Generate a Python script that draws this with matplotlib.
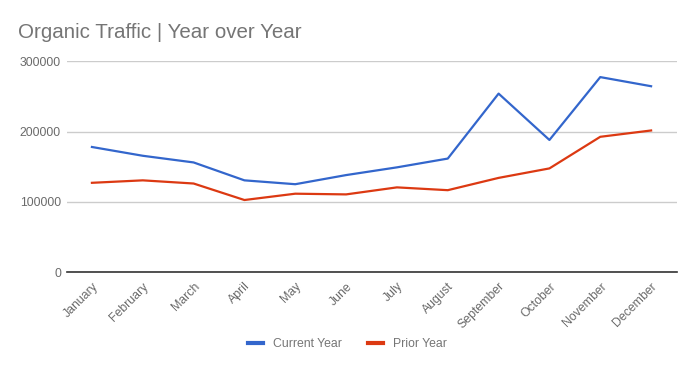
import matplotlib
matplotlib.use('Agg')
import matplotlib.pyplot as plt

# Data
months = ['January', 'February', 'March', 'April', 'May', 'June',
          'July', 'August', 'September', 'October', 'November', 'December']
current_year = [178000, 165500, 156000, 130500, 125000, 138000,
                149000, 161500, 254000, 188000, 277500, 264500]
prior_year = [127000, 130500, 126000, 102500, 111500, 110500,
              120500, 116500, 134000, 147500, 192500, 201500]
y_ticks = [0, 100000, 200000, 300000]

plt.rcParams['font.family'] = ['Liberation Sans', 'DejaVu Sans']

fig = plt.figure(figsize=(6.95, 3.71), dpi=100)
ax = fig.add_axes([0.0957, 0.2668, 0.8777, 0.568])

x = range(len(months))
ax.plot(x, current_year, color='#3366CC', linewidth=1.6, label='Current Year')
ax.plot(x, prior_year, color='#DC3912', linewidth=1.6, label='Prior Year')

ax.set_xlim(-0.5, len(months) - 0.5)
ax.set_ylim(0, 300000)
ax.set_yticks(y_ticks)
ax.set_yticklabels([str(v) for v in y_ticks])
ax.set_xticks(list(x))
ax.set_xticklabels(months, rotation=45, ha='right', rotation_mode='anchor')
ax.tick_params(length=0, labelsize=8.8, labelcolor='#6a6a6a')
ax.tick_params(axis='y', pad=4)
ax.tick_params(axis='x', pad=6)

ax.grid(axis='y', color='#cccccc', linewidth=1)
ax.set_axisbelow(True)
for side in ['top', 'right', 'left']:
    ax.spines[side].set_visible(False)
ax.spines['bottom'].set_color('#333333')
ax.spines['bottom'].set_linewidth(1.2)

fig.text(0.026, 0.912, 'Organic Traffic | Year over Year', fontsize=14.8,
         color='#757575', va='center', ha='left')

fig.legend(loc='center', bbox_to_anchor=(0.5, 0.072), ncol=2, frameon=False,
           fontsize=8.8, labelcolor='#757575', handlelength=1.2,
           columnspacing=2.2, handletextpad=0.8)
for line in fig.legends[0].get_lines():
    line.set_linewidth(3)

fig.savefig('out.png', dpi=100)
